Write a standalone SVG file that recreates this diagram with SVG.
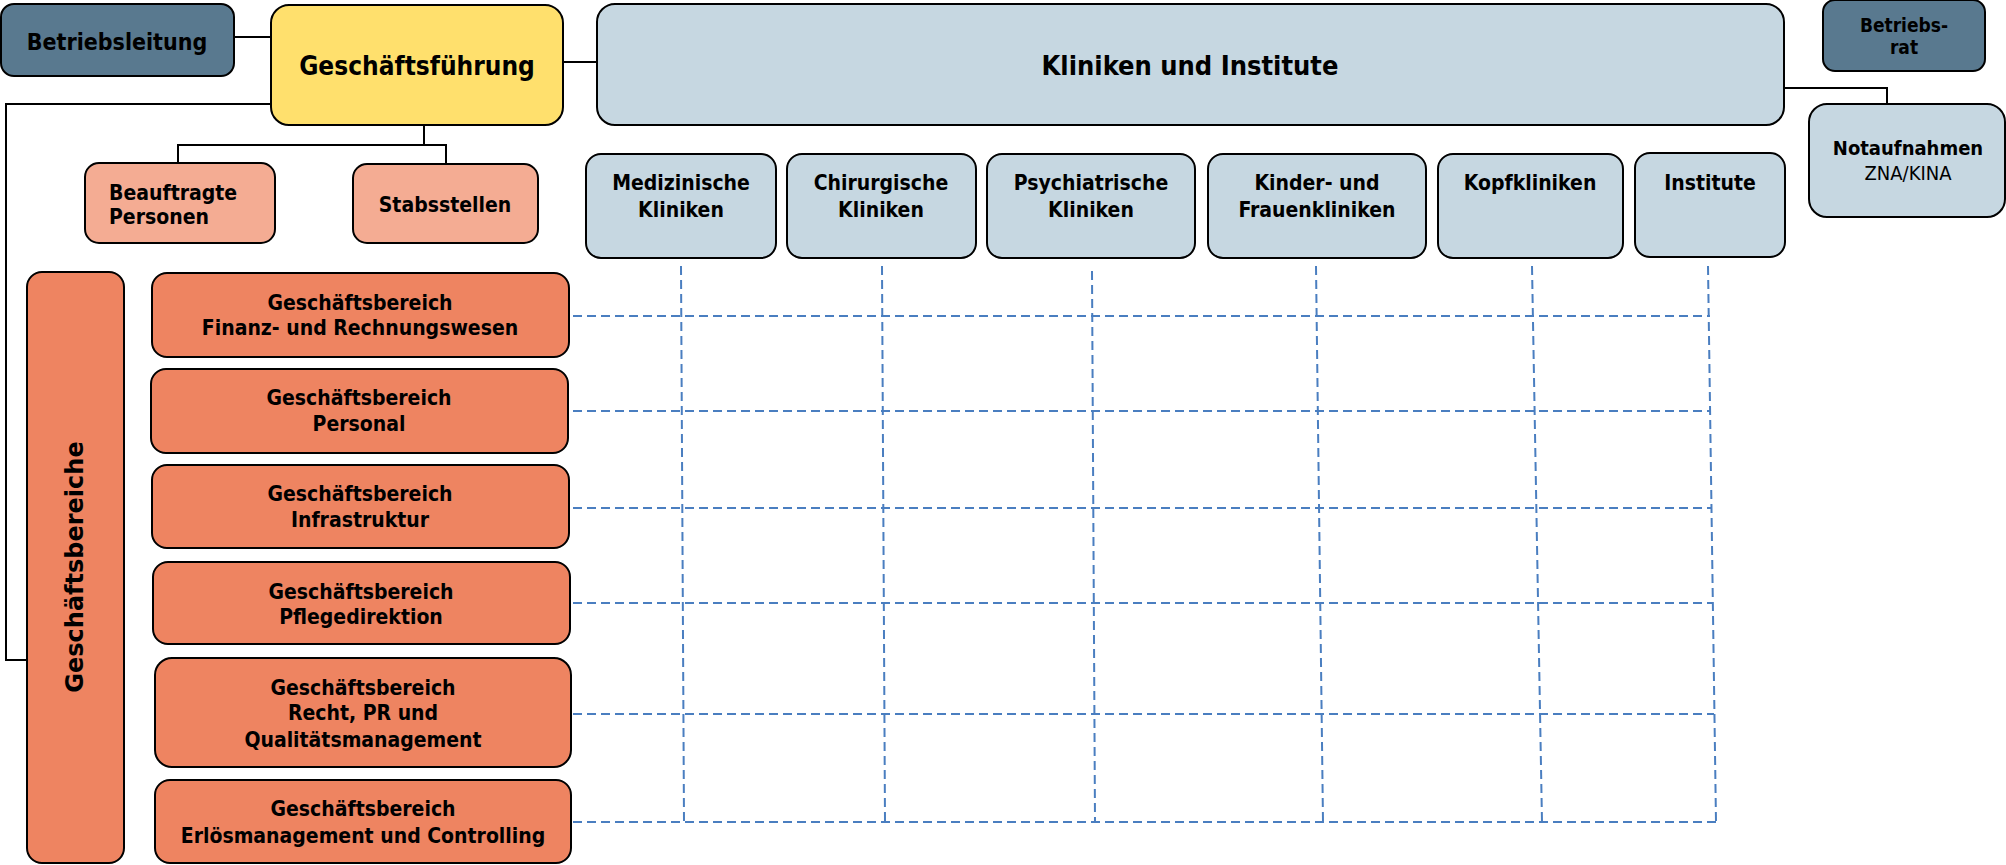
<svg xmlns="http://www.w3.org/2000/svg" width="2006" height="865" viewBox="0 0 2006 865">
<style>
.b{stroke:#000;stroke-width:2}
.dk{fill:#59798F}
.ye{fill:#FFE06D}
.lb{fill:#C6D7E1}
.sl{fill:#F4AC93}
.or{fill:#EE8461}
text{font-family:"DejaVu Sans Condensed","Liberation Sans",sans-serif;font-weight:bold;fill:#000;text-anchor:middle;dominant-baseline:central}
.t21{font-size:21px}
.n{font-weight:normal}
.con{fill:none;stroke:#000;stroke-width:2}
.grid{fill:none;stroke:#4A7EC0;stroke-width:2;stroke-dasharray:9 5}
</style>
<rect width="2006" height="865" fill="#fff"/>
<g id="connectors">
<path class="con" d="M234 37H271"/>
<path class="con" d="M563 62H597"/>
<path class="con" d="M271 104H6V660H27"/>
<path class="con" d="M424 125V145M178 163V145H446V163"/>
<path class="con" d="M1784 88H1887V104"/>
</g>
<g id="grid">
<path class="grid" d="M573 316H1710M573 411H1711M573 508H1712M573 603H1713M573 714H1714M573 822H1716"/>
<path class="grid" d="M681 266L684 822M882 266L885 822M1092 271L1095 822M1316 266L1323 822M1532 266L1542 822M1708 266L1716 822"/>
</g>
<g id="betriebsleitung"><rect class="b dk" x="1" y="4" width="233" height="72" rx="13"/><text x="117" y="42" style="font-size:23px">Betriebsleitung</text></g>
<g id="geschaeftsfuehrung"><rect class="b ye" x="271" y="5" width="292" height="120" rx="18"/><text x="417" y="66" style="font-size:26px">Geschäftsführung</text></g>
<g id="kliniken-institute"><rect class="b lb" x="597" y="4" width="1187" height="121" rx="18"/><text x="1190" y="65" style="font-size:27px">Kliniken und Institute</text></g>
<g id="betriebsrat"><rect class="b dk" x="1823" y="0" width="162" height="71" rx="12"/><text x="1904" y="25" style="font-size:19px">Betriebs-</text><text x="1904" y="47" style="font-size:19px">rat</text></g>
<g id="notaufnahmen"><rect class="b lb" x="1809" y="104" width="196" height="113" rx="18"/><text x="1908" y="148" style="font-size:20px">Notaufnahmen</text><text class="n" x="1908" y="173" style="font-size:20px">ZNA/KINA</text></g>
<g id="beauftragte"><rect class="b sl" x="85" y="163" width="190" height="80" rx="14"/><text x="109" y="193" class="t21" style="text-anchor:start">Beauftragte</text><text x="109" y="217" class="t21" style="text-anchor:start">Personen</text></g>
<g id="stabsstellen"><rect class="b sl" x="353" y="164" width="185" height="79" rx="14"/><text x="445" y="205" class="t21">Stabsstellen</text></g>
<g id="medizinische"><rect class="b lb" x="586" y="154" width="190" height="104" rx="15"/><text x="681" y="183" class="t21">Medizinische</text><text x="681" y="210" class="t21">Kliniken</text></g>
<g id="chirurgische"><rect class="b lb" x="787" y="154" width="189" height="104" rx="15"/><text x="881" y="183" class="t21">Chirurgische</text><text x="881" y="210" class="t21">Kliniken</text></g>
<g id="psychiatrische"><rect class="b lb" x="987" y="154" width="208" height="104" rx="15"/><text x="1091" y="183" class="t21">Psychiatrische</text><text x="1091" y="210" class="t21">Kliniken</text></g>
<g id="kinder"><rect class="b lb" x="1208" y="154" width="218" height="104" rx="15"/><text x="1317" y="183" class="t21">Kinder- und</text><text x="1317" y="210" class="t21">Frauenkliniken</text></g>
<g id="kopfkliniken"><rect class="b lb" x="1438" y="154" width="185" height="104" rx="15"/><text x="1530" y="183" class="t21">Kopfkliniken</text></g>
<g id="institute"><rect class="b lb" x="1635" y="153" width="150" height="104" rx="15"/><text x="1710" y="183" class="t21">Institute</text></g>
<g id="geschaeftsbereiche"><rect class="b or" x="27" y="272" width="97" height="591" rx="15"/><text transform="translate(75 567) rotate(-90)" style="font-family:'DejaVu Sans','Liberation Sans',sans-serif;font-size:24px">Geschäftsbereiche</text></g>
<g id="gb-finanz"><rect class="b or" x="152" y="273" width="417" height="84" rx="15"/><text x="360" y="303" class="t21">Geschäftsbereich</text><text x="360" y="328" class="t21">Finanz- und Rechnungswesen</text></g>
<g id="gb-personal"><rect class="b or" x="151" y="369" width="417" height="84" rx="15"/><text x="359" y="398" class="t21">Geschäftsbereich</text><text x="359" y="424" class="t21">Personal</text></g>
<g id="gb-infrastruktur"><rect class="b or" x="152" y="465" width="417" height="83" rx="15"/><text x="360" y="494" class="t21">Geschäftsbereich</text><text x="360" y="520" class="t21">Infrastruktur</text></g>
<g id="gb-pflege"><rect class="b or" x="153" y="562" width="417" height="82" rx="15"/><text x="361" y="592" class="t21">Geschäftsbereich</text><text x="361" y="617" class="t21">Pflegedirektion</text></g>
<g id="gb-recht"><rect class="b or" x="155" y="658" width="416" height="109" rx="17"/><text x="363" y="688" class="t21">Geschäftsbereich</text><text x="363" y="713" class="t21">Recht, PR und</text><text x="363" y="740" class="t21">Qualitätsmanagement</text></g>
<g id="gb-erloes"><rect class="b or" x="155" y="780" width="416" height="83" rx="15"/><text x="363" y="809" class="t21">Geschäftsbereich</text><text x="363" y="836" class="t21">Erlösmanagement und Controlling</text></g>
</svg>
